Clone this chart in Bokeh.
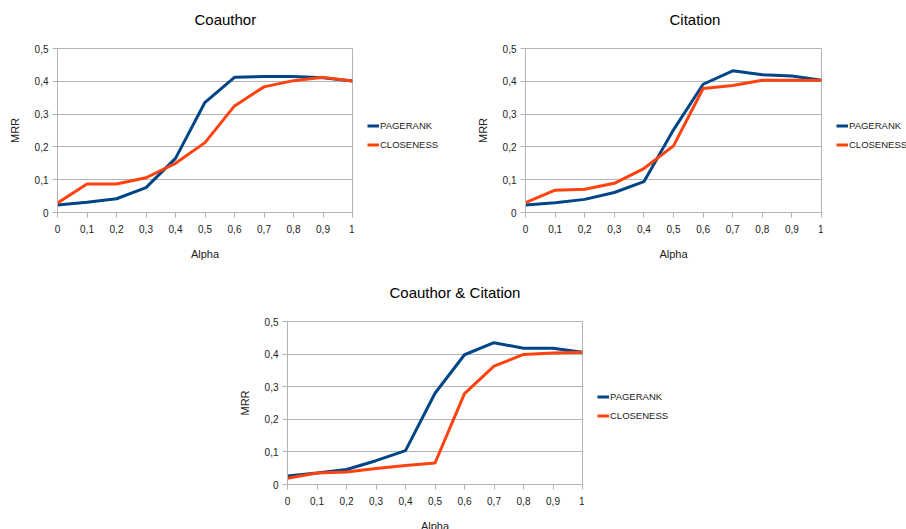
from bokeh.plotting import figure
from bokeh.models import Legend, LegendItem, FixedTicker, Range1d, Spacer, Title
from bokeh.layouts import column, row
from bokeh.embed import file_html
from bokeh.resources import INLINE

alpha = [0, 0.1, 0.2, 0.3, 0.4, 0.5, 0.6, 0.7, 0.8, 0.9, 1]
x_tick_labels = ["0", "0,1", "0,2", "0,3", "0,4", "0,5", "0,6", "0,7", "0,8", "0,9", "1"]
y_ticks = [0, 0.1, 0.2, 0.3, 0.4, 0.5]
y_tick_labels = ["0", "0,1", "0,2", "0,3", "0,4", "0,5"]

coauthor_pagerank = [0.023, 0.031, 0.042, 0.076, 0.165, 0.336, 0.412, 0.415, 0.415, 0.411, 0.401]
coauthor_closeness = [0.029, 0.087, 0.087, 0.106, 0.150, 0.213, 0.325, 0.383, 0.402, 0.412, 0.401]

citation_pagerank = [0.023, 0.030, 0.040, 0.061, 0.094, 0.252, 0.391, 0.432, 0.420, 0.416, 0.403]
citation_closeness = [0.030, 0.068, 0.071, 0.089, 0.134, 0.203, 0.378, 0.387, 0.403, 0.403, 0.403]

both_pagerank = [0.026, 0.035, 0.046, 0.073, 0.104, 0.280, 0.398, 0.435, 0.418, 0.418, 0.406]
both_closeness = [0.019, 0.035, 0.038, 0.049, 0.058, 0.066, 0.279, 0.363, 0.399, 0.403, 0.406]

titles = ["Coauthor", "Citation", "Coauthor & Citation"]
series_names = ["PAGERANK", "CLOSENESS"]
series_colors = ["#004586", "#ff420e"]

GRAY = "#b3b3b3"
FONT = "Liberation Sans"
TXT = "#222222"


def make_plot(title, pr, cl, fw, fh, mb_left, mb_top, mb_bottom, title_offset):
    p = figure(width=mb_left + fw + 2, height=mb_top + fh + mb_bottom,
               min_border_left=mb_left, min_border_right=2,
               min_border_top=mb_top, min_border_bottom=mb_bottom,
               x_range=Range1d(0, 1), y_range=Range1d(0, 0.5),
               output_backend="svg", toolbar_location=None, tools="")

    # trailing empty line lifts the title away from the plot area
    t = Title(text=title + "\n", align="left", offset=title_offset, standoff=8,
              text_font=FONT, text_font_size="15px", text_font_style="normal",
              text_color="#000000")
    p.add_layout(t, "above")

    p.outline_line_color = GRAY
    p.background_fill_color = "white"
    p.border_fill_color = "white"

    p.xgrid.visible = False
    p.ygrid.grid_line_color = GRAY
    p.ygrid.ticker = FixedTicker(ticks=y_ticks)

    p.xaxis.ticker = FixedTicker(ticks=alpha)
    p.xaxis.major_label_overrides = {t: s for t, s in zip(alpha, x_tick_labels)}
    p.yaxis.ticker = FixedTicker(ticks=y_ticks)
    p.yaxis.major_label_overrides = {t: s for t, s in zip(y_ticks, y_tick_labels)}

    for ax in (p.xaxis, p.yaxis):
        ax.axis_line_color = GRAY
        ax.major_tick_line_color = GRAY
        ax.minor_tick_line_color = None
        ax.major_tick_in = 0
        ax.major_tick_out = 5
        ax.major_label_text_font = FONT
        ax.major_label_text_font_size = "10px"
        ax.major_label_text_color = TXT
        ax.axis_label_text_font = FONT
        ax.axis_label_text_font_size = "11px"
        ax.axis_label_text_font_style = "normal"
        ax.axis_label_text_color = TXT

    p.xaxis.axis_label = "Alpha"
    p.xaxis.major_label_standoff = 7
    p.xaxis.axis_label_standoff = 12
    p.yaxis.axis_label = "MRR"
    p.yaxis.major_label_standoff = 4
    p.yaxis.axis_label_standoff = 11

    p.line(alpha, pr, line_color=series_colors[0], line_width=3)
    p.line(alpha, cl, line_color=series_colors[1], line_width=3)
    return p


def make_legend(width, height, pr, cl, leg_x, leg_y):
    # x range placed beyond the data so that only the legend itself shows
    f = figure(width=width, height=height, min_border=0,
               x_range=Range1d(2, 3), y_range=Range1d(0, 0.5),
               x_axis_type=None, y_axis_type=None,
               output_backend="svg", toolbar_location=None, tools="")
    f.outline_line_color = None
    f.xgrid.visible = False
    f.ygrid.visible = False
    f.background_fill_color = "white"
    f.border_fill_color = "white"
    rs = [f.line(alpha, s, line_color=c, line_width=3)
          for s, c in zip((pr, cl), series_colors)]
    legend = Legend(items=[LegendItem(label=n, renderers=[r])
                           for n, r in zip(series_names, rs)],
                    location=(leg_x, leg_y))
    legend.margin = 0
    legend.padding = 0
    legend.spacing = 0
    legend.glyph_width = 12
    legend.glyph_height = 19
    legend.label_height = 19
    legend.label_standoff = 1
    legend.label_text_font = FONT
    legend.label_text_font_size = "9.5px"
    legend.label_text_color = TXT
    legend.border_line_color = None
    legend.background_fill_alpha = 0
    f.add_layout(legend)
    return f


p1 = make_plot(titles[0], coauthor_pagerank, coauthor_closeness, 295, 164, 57, 48, 58, 137)
l1 = make_legend(114, 270, coauthor_pagerank, coauthor_closeness, 13, 58)
p2 = make_plot(titles[1], citation_pagerank, citation_closeness, 296, 164, 57, 48, 58, 144)
l2 = make_legend(83, 270, citation_pagerank, citation_closeness, 13, 58)
p3 = make_plot(titles[2], both_pagerank, both_closeness, 295, 163, 57, 51, 52, 102)
l3 = make_legend(114, 266, both_pagerank, both_closeness, 13, 59)

layout = column(row(p1, l1, p2, l2), row(Spacer(width=230, height=10), p3, l3))

open("out.html", "w").write(file_html(layout, INLINE))
